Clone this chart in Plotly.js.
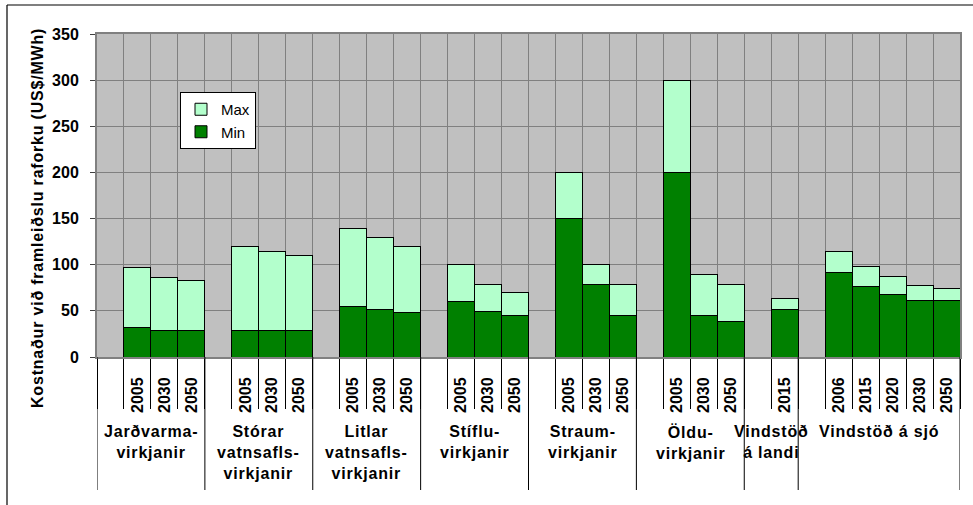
<!DOCTYPE html>
<html>
<head>
<meta charset="utf-8">
<script src="https://cdn.plot.ly/plotly-3.0.1.min.js"></script>
<style>
  html, body { margin: 0; padding: 0; background: #fff; }
  #chart { width: 973px; height: 505px; }
  .annotation-text { letter-spacing: 0.8px; }
</style>
</head>
<body>
<div id="chart"></div>
<script>
// ---- data ----
const groups = [
  'Jarðvarma-<br>virkjanir',
  'Stórar<br>vatnsafls-<br>virkjanir',
  'Litlar<br>vatnsafls-<br>virkjanir',
  'Stíflu-<br>virkjanir',
  'Straum-<br>virkjanir',
  'Öldu-<br>virkjanir',
  'Vindstöð<br>á landi',
  'Vindstöð á sjó'
];
const groupSizes = [3, 3, 3, 3, 3, 3, 1, 5];
const years = [
  '2005', '2030', '2050',
  '2005', '2030', '2050',
  '2005', '2030', '2050',
  '2005', '2030', '2050',
  '2005', '2030', '2050',
  '2005', '2030', '2050',
  '2015',
  '2006', '2015', '2020', '2030', '2050'
];
const minCost = [32, 29, 29,  29, 29, 29,  55, 51, 48,  60, 49, 45,  150, 79, 45,  200, 45, 39,  52,  92, 76, 68, 61, 61];
const maxCost = [97, 86, 83,  120, 114, 110,  139, 129, 120,  100, 79, 70,  200, 100, 79,  300, 89, 79,  63,  114, 98, 87, 77, 74];

// ---- category slots: one empty slot before each group ----
const xPos = [];
const groupStart = [];
const groupEnd = [];
let slot = 0;
groupSizes.forEach(n => {
  groupStart.push(slot - 0.5);
  slot += 1; // empty slot
  for (let i = 0; i < n; i++) { xPos.push(slot); slot += 1; }
  groupEnd.push(slot - 0.5);
});
const nSlots = slot;
const maxPart = maxCost.map((v, i) => v - minCost[i]);

const FONT = 'Liberation Sans, Arial, sans-serif';

const traces = [
  {
    type: 'bar', name: 'Min', x: xPos, y: minCost, width: 1,
    marker: { color: '#008000', line: { color: '#000000', width: 1 } },
    hoverinfo: 'skip'
  },
  {
    type: 'bar', name: 'Max', x: xPos, y: maxPart, width: 1,
    marker: { color: '#B3FFCC', line: { color: '#000000', width: 1 } },
    hoverinfo: 'skip'
  }
];

// plot area geometry in px (for paper-coordinate placement)
const L = 97, R = 13, T = 34, B = 148, W = 973, H = 505;
const pw = W - L - R, ph = H - T - B;
const px2x = p => (p - L) / pw;
const px2y = p => (H - B - p) / ph;

const shapes = [];
// long group dividers below axis
const bounds = [groupStart[0]].concat(groupEnd);
bounds.forEach(b => {
  shapes.push({ type: 'line', xref: 'x', yref: 'paper', x0: b, x1: b,
    y0: 0, y1: px2y(490), line: { color: '#000000', width: 1 } });
});
// outer chart frame (top and left visible)
shapes.push({ type: 'line', xref: 'paper', yref: 'paper', x0: px2x(7), x1: px2x(980),
  y0: px2y(5), y1: px2y(5), line: { color: '#000000', width: 1.2 } });
shapes.push({ type: 'line', xref: 'paper', yref: 'paper', x0: px2x(7), x1: px2x(7),
  y0: px2y(5), y1: px2y(520), line: { color: '#000000', width: 1.2 } });

const annotations = groups.map((g, i) => ({
  text: '<b>' + g + '</b>', xref: 'x', yref: 'paper',
  x: (groupStart[i] + groupEnd[i]) / 2, y: px2y(421),
  xanchor: 'center', yanchor: 'top', showarrow: false, align: 'center',
  font: { family: FONT, size: 16, color: '#000000' }
}));
annotations.push({
  text: '<b>Kostnaður við framleiðslu raforku (US$/MWh)</b>',
  xref: 'paper', yref: 'paper', x: px2x(37), y: px2y(218),
  xanchor: 'center', yanchor: 'middle', textangle: -90, showarrow: false,
  font: { family: FONT, size: 16, color: '#000000' }
});

const layout = {
  width: W, height: H,
  margin: { l: L, r: R, t: T, b: B, pad: 0 },
  paper_bgcolor: '#ffffff',
  plot_bgcolor: '#C0C0C0',
  barmode: 'stack',
  bargap: 0,
  showlegend: true,
  legend: {
    x: px2x(180), y: px2y(92), xanchor: 'left', yanchor: 'top',
    bgcolor: '#ffffff', bordercolor: '#000000', borderwidth: 1,
    font: { family: FONT, size: 15, color: '#000000' },
    traceorder: 'reversed', itemwidth: 30, tracegroupgap: 0
  },
  xaxis: {
    type: 'linear', range: [-0.5, nSlots - 0.5], fixedrange: true,
    tickmode: 'array', tickvals: xPos, ticktext: years, tickangle: -90,
    ticks: 'outside', ticklen: 12, tickcolor: 'rgba(0,0,0,0)',
    tickfont: { family: FONT, size: 16, color: '#000000', weight: 'bold' },
    showgrid: false, zeroline: false,
    showline: true, linecolor: '#808080', linewidth: 2, mirror: true,
    minor: { tickmode: 'linear', tick0: -0.5, dtick: 1, showgrid: true,
      gridcolor: '#808080', gridwidth: 1, ticks: 'outside', ticklen: 50,
      tickcolor: '#000000', tickwidth: 1 }
  },
  yaxis: {
    range: [0, 350], dtick: 50, tick0: 0, fixedrange: true,
    ticks: 'outside', ticklen: 5, tickcolor: '#404040', tickwidth: 1,
    tickfont: { family: FONT, size: 16, color: '#000000', weight: 'bold' },
    ticklabelstandoff: 8,
    showgrid: true, gridcolor: '#808080', gridwidth: 1, zeroline: false,
    showline: true, linecolor: '#808080', linewidth: 2, mirror: true
  },
  shapes: shapes,
  annotations: annotations
};

Plotly.newPlot('chart', traces, layout, { displayModeBar: false, staticPlot: true });
</script>
</body>
</html>
